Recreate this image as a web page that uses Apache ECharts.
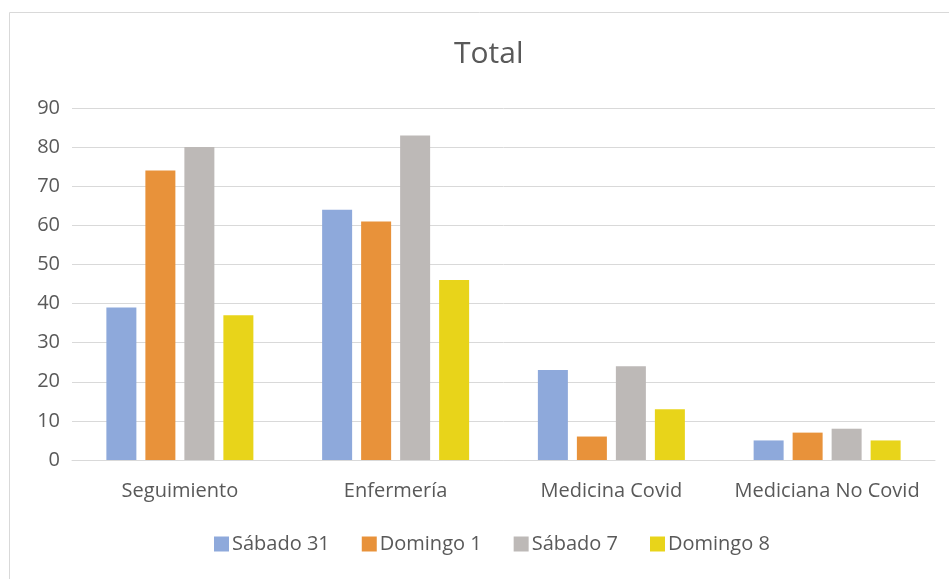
<!DOCTYPE html>
<html><head><meta charset="utf-8">
<script src="https://cdn.jsdelivr.net/npm/echarts@6/dist/echarts.min.js"></script>
<style>html,body{margin:0;padding:0;background:#fff}#c{width:949px;height:579px}</style>
</head><body><div id="c"></div>
<script>
const categories = ['Seguimiento', 'Enfermería', 'Medicina Covid', 'Mediciana No Covid'];
const seriesNames = ['Sábado 31', 'Domingo 1', 'Sábado 7', 'Domingo 8'];
const sabado31 = [39, 64, 23, 5];
const domingo1 = [74, 61, 6, 7];
const sabado7 = [80, 83, 24, 8];
const domingo8 = [37, 46, 13, 5];
const colors = ['#8EA9DB', '#E8923A', '#BDB9B7', '#E8D41A'];
const values = [sabado31, domingo1, sabado7, domingo8];

const font = '"Open Sans", Lato, sans-serif';
const chart = echarts.init(document.getElementById('c'));
chart.setOption({
  animation: false,
  color: colors,
  graphic: [{
    type: 'rect', left: 7, top: 10, shape: {width: 960, height: 600},
    style: {fill: 'none', stroke: '#d9d9d9', lineWidth: 1}, silent: true, z: -1
  }],
  title: {
    text: 'Total', left: 449, top: 34,
    textStyle: {fontFamily: font, fontSize: 30, fontWeight: 'normal', color: '#595959'}
  },
  legend: {
    bottom: 20, left: 209, itemWidth: 15, itemHeight: 15, itemGap: 32,
    icon: 'rect',
    textStyle: {fontFamily: font, fontSize: 20, color: '#595959', padding: [0, 0, 0, -2]},
    data: seriesNames
  },
  grid: {left: 72, right: 14, top: 108, bottom: 119, containLabel: false},
  xAxis: {
    type: 'category', data: categories,
    axisLine: {lineStyle: {color: '#d9d9d9'}},
    axisTick: {show: false},
    axisLabel: {fontFamily: font, fontSize: 20, color: '#595959', margin: 21, interval: 0}
  },
  yAxis: {
    type: 'value', min: 0, max: 90, interval: 10,
    axisLine: {show: false}, axisTick: {show: false},
    axisLabel: {fontFamily: font, fontSize: 20, color: '#595959', margin: 12},
    splitLine: {lineStyle: {color: '#d9d9d9'}}
  },
  series: values.map((v, i) => ({
    name: seriesNames[i], type: 'bar', data: v,
    barWidth: 30, barGap: '30%'
  }))
});
</script></body></html>
